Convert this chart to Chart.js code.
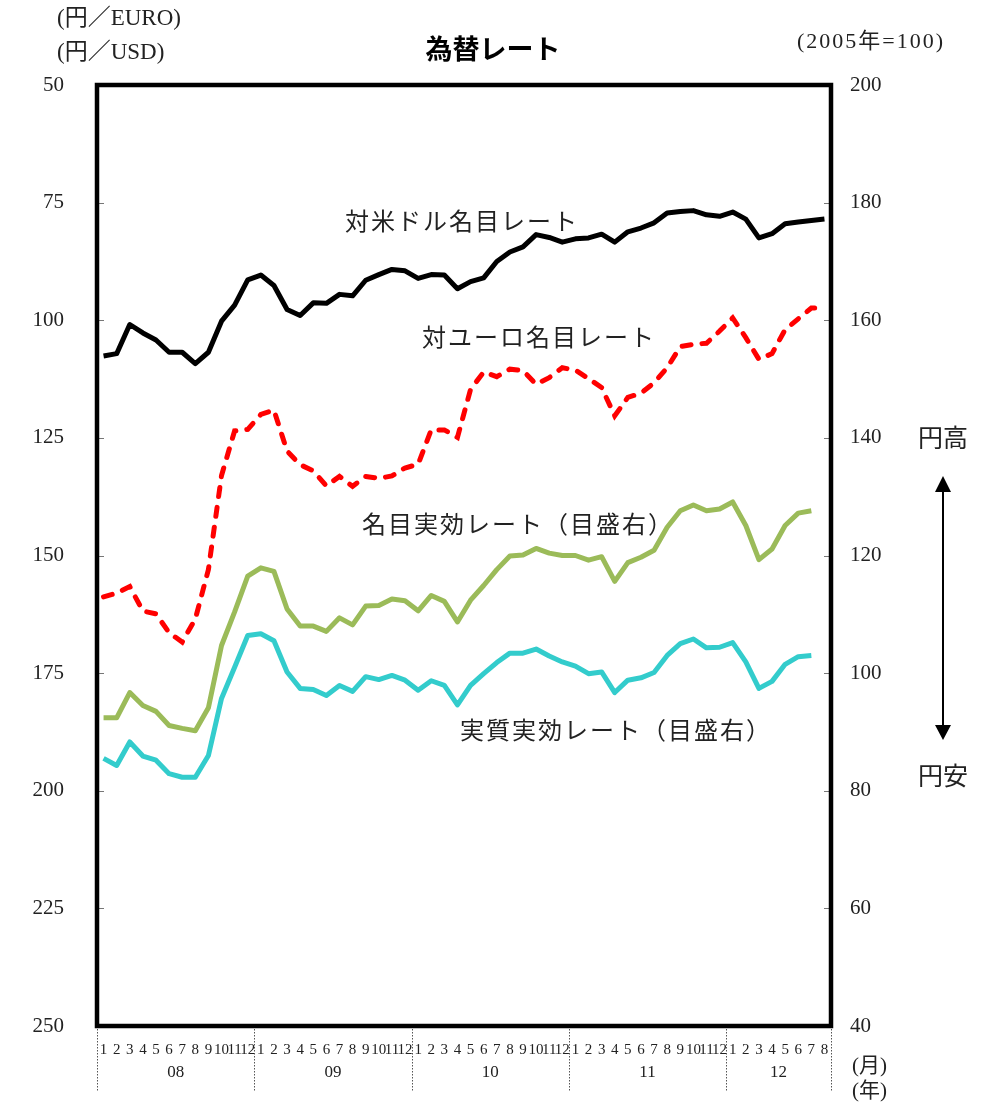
<!DOCTYPE html>
<html>
<head>
<meta charset="utf-8">
<script src="https://cdn.jsdelivr.net/npm/chart.js@4.4.1/dist/chart.umd.min.js"></script>
<style>
html,body{margin:0;padding:0;background:#fff;}
#wrap{width:990px;height:1105px;}
</style>
</head>
<body>
<div id="wrap"><canvas id="c" width="990" height="1105"></canvas></div>
<script>
// ---- data ----
const categories = [
  '2008-01','2008-02','2008-03','2008-04','2008-05','2008-06','2008-07','2008-08','2008-09','2008-10','2008-11','2008-12',
  '2009-01','2009-02','2009-03','2009-04','2009-05','2009-06','2009-07','2009-08','2009-09','2009-10','2009-11','2009-12',
  '2010-01','2010-02','2010-03','2010-04','2010-05','2010-06','2010-07','2010-08','2010-09','2010-10','2010-11','2010-12',
  '2011-01','2011-02','2011-03','2011-04','2011-05','2011-06','2011-07','2011-08','2011-09','2011-10','2011-11','2011-12',
  '2012-01','2012-02','2012-03','2012-04','2012-05','2012-06','2012-07','2012-08'
];
const yearLabels = ['08','09','10','11','12'];

// 円／USD (left axis, inverted)
const usdRate = [
  107.6,107.1,100.9,102.7,104.2,106.8,106.8,109.2,106.8,100.2,96.8,91.4,
  90.4,92.6,97.7,99.0,96.3,96.4,94.5,94.8,91.5,90.3,89.2,89.5,
  91.1,90.3,90.4,93.3,91.8,91.0,87.5,85.5,84.4,81.8,82.4,83.4,
  82.7,82.5,81.7,83.4,81.2,80.4,79.3,77.2,76.9,76.7,77.6,77.9,
  77.0,78.5,82.5,81.6,79.5,79.1,78.8,78.5
];
// 円／EURO (left axis, inverted)
const euroRate = [
  158.8,158.0,156.6,161.8,162.4,166.4,168.4,163.5,153.0,133.0,123.5,123.2,
  120.0,119.1,127.8,130.7,132.0,135.2,133.2,135.3,133.2,133.6,133.1,131.4,
  130.6,123.3,123.3,124.9,114.7,111.0,112.0,110.4,110.7,113.6,112.2,110.1,
  110.6,112.4,114.3,120.3,116.4,115.5,113.3,110.1,105.6,105.1,104.9,102.3,
  99.5,103.7,108.3,107.1,102.0,99.7,97.4,97.4
];
// 名目実効レート (right axis, 2005=100)
const nominalEffective = [
  92.4,92.4,96.7,94.5,93.5,91.1,90.6,90.2,94.1,104.7,110.4,116.5,
  117.9,117.3,110.9,108.0,108.0,107.1,109.4,108.2,111.4,111.5,112.6,112.3,
  110.6,113.2,112.2,108.7,112.4,114.9,117.6,119.9,120.1,121.2,120.4,120.0,
  120.0,119.2,119.8,115.6,118.8,119.7,120.9,124.8,127.6,128.6,127.6,127.9,
  129.1,125.1,119.3,121.1,125.1,127.2,127.6,null
];
// 実質実効レート (right axis, 2005=100)
const realEffective = [
  85.5,84.3,88.3,85.9,85.2,82.9,82.3,82.3,86.0,95.7,101.0,106.4,
  106.7,105.5,100.2,97.4,97.2,96.2,97.9,96.9,99.4,98.9,99.6,98.8,
  97.1,98.7,97.9,94.6,97.9,99.9,101.8,103.4,103.4,104.1,102.9,101.9,
  101.2,99.9,100.2,96.7,98.8,99.2,100.1,103.0,105.0,105.8,104.3,104.4,
  105.2,101.9,97.4,98.6,101.5,102.8,103.0,null
];

const leftTicks = [50,75,100,125,150,175,200,225,250];
const rightTicks = [40,60,80,100,120,140,160,180,200];

const SERIF = '"Liberation Serif","Noto Sans CJK JP",serif';
const CJK = '"Noto Sans CJK JP","Liberation Serif",sans-serif';

const overlay = {
  id: 'overlay',
  afterDatasetsDraw(chart) {
    const ctx = chart.ctx;
    const a = chart.chartArea;
    const xs = chart.scales.x, yl = chart.scales.y, yr = chart.scales.y1;
    const hasLS = ('letterSpacing' in ctx);
    ctx.save();
    // inward tick marks
    ctx.strokeStyle = '#777';
    ctx.lineWidth = 1;
    leftTicks.forEach(v => {
      const y = Math.round(yl.getPixelForValue(v)) + 0.5;
      ctx.beginPath(); ctx.moveTo(a.left, y); ctx.lineTo(a.left + 7, y); ctx.stroke();
    });
    rightTicks.forEach(v => {
      const y = Math.round(yr.getPixelForValue(v)) + 0.5;
      ctx.beginPath(); ctx.moveTo(a.right - 7, y); ctx.lineTo(a.right, y); ctx.stroke();
    });
    // plot frame
    ctx.strokeStyle = '#000';
    ctx.lineWidth = 4.5;
    ctx.strokeRect(a.left, a.top, a.right - a.left, a.bottom - a.top);

    // year separators and labels
    const seps = [a.left];
    for (let i = 1; i < categories.length; i++) {
      if (categories[i].slice(0,4) !== categories[i-1].slice(0,4)) {
        seps.push((xs.getPixelForValue(i) + xs.getPixelForValue(i-1)) / 2);
      }
    }
    seps.push(a.right);
    ctx.strokeStyle = '#555';
    ctx.lineWidth = 1;
    ctx.setLineDash([1.5, 1.5]);
    seps.forEach(x => {
      const xx = Math.round(x) + 0.5;
      ctx.beginPath(); ctx.moveTo(xx, a.bottom + 3); ctx.lineTo(xx, 1091); ctx.stroke();
    });
    ctx.setLineDash([]);
    ctx.fillStyle = '#222';
    ctx.font = '17px ' + SERIF;
    ctx.textAlign = 'center';
    ctx.textBaseline = 'middle';
    for (let k = 0; k < yearLabels.length; k++) {
      ctx.fillText(yearLabels[k], (seps[k] + seps[k+1]) / 2, 1073);
    }

    // unit labels
    ctx.font = '23px ' + SERIF;
    ctx.textAlign = 'left';
    ctx.fillText('(円／EURO)', 57, 19);
    ctx.fillText('(円／USD)', 57, 53);
    ctx.font = '22px ' + SERIF;
    if (hasLS) ctx.letterSpacing = '2px';
    ctx.fillText('(2005年=100)', 797, 42);
    if (hasLS) ctx.letterSpacing = '0px';
    ctx.font = '21px ' + SERIF;
    ctx.fillText('(月)', 852, 1066);
    ctx.fillText('(年)', 852, 1091);

    // title
    ctx.font = 'bold 27px ' + CJK;
    ctx.textAlign = 'center';
    ctx.fillStyle = '#000';
    ctx.fillText('為替レート', 493, 49);

    // series labels
    ctx.fillStyle = '#222';
    ctx.font = '24px ' + SERIF;
    ctx.textAlign = 'left';
    if (hasLS) ctx.letterSpacing = '2px';
    ctx.fillText('対米ドル名目レート', 345, 224);
    ctx.fillText('対ユーロ名目レート', 422, 340);
    ctx.fillText('名目実効レート（目盛右）', 362, 527);
    ctx.fillText('実質実効レート（目盛右）', 460, 733);
    if (hasLS) ctx.letterSpacing = '0px';

    // 円高 / 円安 with arrow
    ctx.font = '25px ' + SERIF;
    ctx.textAlign = 'center';
    ctx.fillText('円高', 943, 440);
    ctx.fillText('円安', 943, 778);
    ctx.strokeStyle = '#000';
    ctx.fillStyle = '#000';
    ctx.lineWidth = 2;
    ctx.beginPath(); ctx.moveTo(943, 490); ctx.lineTo(943, 728); ctx.stroke();
    ctx.beginPath(); ctx.moveTo(943, 476); ctx.lineTo(935, 492); ctx.lineTo(951, 492); ctx.closePath(); ctx.fill();
    ctx.beginPath(); ctx.moveTo(943, 740); ctx.lineTo(935, 725); ctx.lineTo(951, 725); ctx.closePath(); ctx.fill();
    ctx.restore();
  }
};

new Chart(document.getElementById('c'), {
  type: 'line',
  data: {
    labels: categories,
    datasets: [
      { label: '対米ドル名目レート', data: usdRate, yAxisID: 'y', borderColor: '#000000', borderWidth: 5, pointRadius: 0, tension: 0, fill: false, borderJoinStyle: 'round' },
      { label: '対ユーロ名目レート', data: euroRate, yAxisID: 'y', borderColor: '#ff0000', borderWidth: 5, borderDash: [9, 11], borderCapStyle: 'round', pointRadius: 0, tension: 0, fill: false },
      { label: '名目実効レート（目盛右）', data: nominalEffective, yAxisID: 'y1', borderColor: '#9bbb59', borderWidth: 5, pointRadius: 0, tension: 0, fill: false, borderJoinStyle: 'round' },
      { label: '実質実効レート（目盛右）', data: realEffective, yAxisID: 'y1', borderColor: '#33cccc', borderWidth: 5, pointRadius: 0, tension: 0, fill: false, borderJoinStyle: 'round' }
    ]
  },
  options: {
    responsive: false,
    animation: false,
    devicePixelRatio: 1,
    spanGaps: false,
    layout: { padding: { top: 85, left: 0, right: 0, bottom: 0 } },
    plugins: { legend: { display: false }, title: { display: false }, tooltip: { enabled: false } },
    scales: {
      x: {
        type: 'category',
        offset: true,
        grid: { display: false },
        border: { display: false },
        ticks: {
          autoSkip: false, maxRotation: 0, minRotation: 0, padding: 7,
          color: '#222',
          font: { family: SERIF, size: 15 },
          callback: function(v, i) { return String(parseInt(categories[i].slice(5), 10)); }
        },
        afterFit: s => { s.height = 79; }
      },
      y: {
        position: 'left',
        reverse: true,
        min: 50, max: 250,
        afterBuildTicks: s => { s.ticks = leftTicks.map(v => ({ value: v })); },
        grid: { display: false },
        border: { display: false },
        ticks: { padding: 25, color: '#222', font: { family: SERIF, size: 21 } },
        afterFit: s => { s.width = 97; }
      },
      y1: {
        position: 'right',
        min: 40, max: 200,
        afterBuildTicks: s => { s.ticks = rightTicks.map(v => ({ value: v })); },
        grid: { display: false },
        border: { display: false },
        ticks: { padding: 11, color: '#222', font: { family: SERIF, size: 21 } },
        afterFit: s => { s.width = 159; }
      }
    }
  },
  plugins: [overlay]
});
</script>
</body>
</html>
